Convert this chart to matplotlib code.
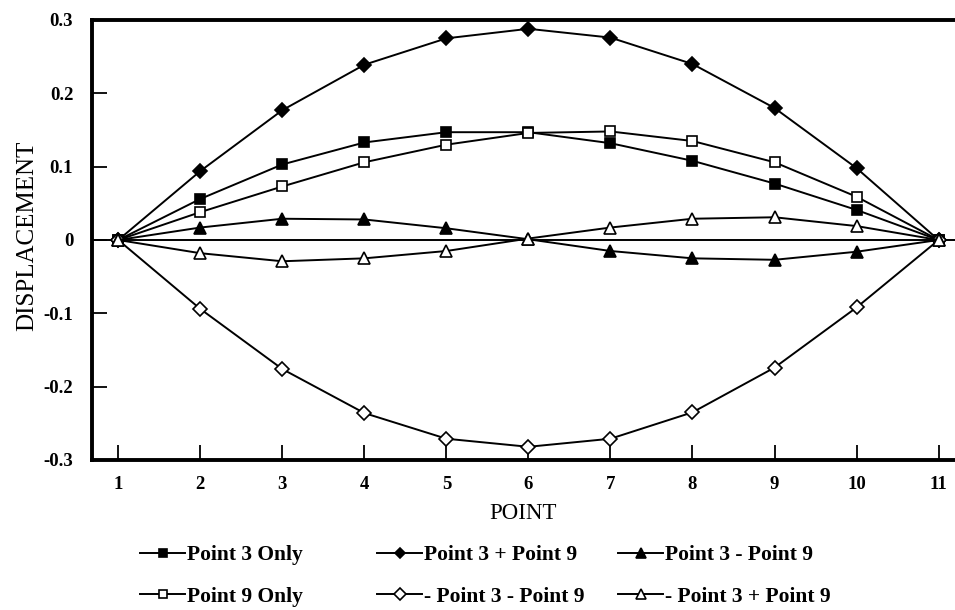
import matplotlib.pyplot as plt
from matplotlib.ticker import FixedLocator, FuncFormatter

plt.rcParams['font.family'] = ['Liberation Serif', 'DejaVu Serif']

# point number along the member
points = [1, 2, 3, 4, 5, 6, 7, 8, 9, 10, 11]

# displacement for each load case
p3_only = [0, 0.056, 0.103, 0.133, 0.147, 0.147, 0.132, 0.108, 0.077, 0.041, 0]
p9_only = [0, 0.038, 0.073, 0.106, 0.130, 0.146, 0.148, 0.135, 0.106, 0.059, 0]
p3_plus_p9 = [0, 0.094, 0.177, 0.239, 0.275, 0.288, 0.276, 0.240, 0.180, 0.098, 0]
neg_p3_neg_p9 = [0, -0.094, -0.176, -0.236, -0.271, -0.282, -0.271, -0.235, -0.174, -0.092, 0]
p3_minus_p9 = [0, 0.017, 0.029, 0.028, 0.016, 0.001, -0.015, -0.025, -0.027, -0.016, 0]
neg_p3_plus_p9 = [0, -0.018, -0.029, -0.025, -0.015, 0.002, 0.017, 0.029, 0.031, 0.019, 0]

fig = plt.figure(figsize=(9.55, 6.1), dpi=100)
ax = fig.add_axes([92/955, 1 - 460/610, (955 - 92)/955, (460 - 20)/610])

ax.axhline(0, color='black', lw=1.4, zorder=1)

style = dict(color='black', lw=1.4, markeredgewidth=1.2)
l1, = ax.plot(points, p3_only, marker='s', ms=7, mfc='black', label='Point 3 Only', **style)
l2, = ax.plot(points, p9_only, marker='s', ms=7.5, mfc='white', label='Point 9 Only', **style)
l3, = ax.plot(points, p3_plus_p9, marker='D', ms=7, mfc='black', label='Point 3 + Point 9', **style)
l4, = ax.plot(points, neg_p3_neg_p9, marker='D', ms=7.5, mfc='white', label='- Point 3 - Point 9', **style)
l5, = ax.plot(points, p3_minus_p9, marker='^', ms=8.5, mfc='black', label='Point 3 - Point 9', **style)
l6, = ax.plot(points, neg_p3_plus_p9, marker='^', ms=9, mfc='white', label='- Point 3 + Point 9', **style)

ax.set_xlim(0.68, 11.2)
ax.set_ylim(-0.3, 0.3)
ax.xaxis.set_major_locator(FixedLocator(points))
ax.yaxis.set_major_locator(FixedLocator([-0.3, -0.2, -0.1, 0, 0.1, 0.2, 0.3]))
ax.yaxis.set_major_formatter(FuncFormatter(lambda v, p: '0' if abs(v) < 1e-9 else ('%.1f' % v)))

for s in ['left', 'bottom', 'top']:
    ax.spines[s].set_linewidth(2.8)
ax.spines['right'].set_visible(False)

ax.tick_params(direction='in', length=11, width=1.3, labelsize=13.5)
ax.tick_params(axis='x', pad=11.5)
ax.tick_params(axis='y', pad=13.5)
for lab in ax.get_xticklabels() + ax.get_yticklabels():
    lab.set_fontweight('bold')

ax.set_xlabel('POINT', fontsize=16.5, labelpad=7)
ax.set_ylabel('DISPLACEMENT', fontsize=18)
ax.yaxis.set_label_coords(-0.062, 0.51)

# three legend columns placed at fixed x positions
for handles, x0 in [((l1, l2), 140), ((l3, l4), 377), ((l5, l6), 618)]:
    fig.legend(handles=list(handles), loc='upper left', bbox_to_anchor=(x0/955, 1 - 545/610),
               frameon=False, handlelength=2.1, handletextpad=0.1, labelspacing=1.0,
               borderpad=0, borderaxespad=0, markerscale=0.8,
               prop={'weight': 'bold', 'size': 15.5})

fig.savefig('out.png', dpi=100)
